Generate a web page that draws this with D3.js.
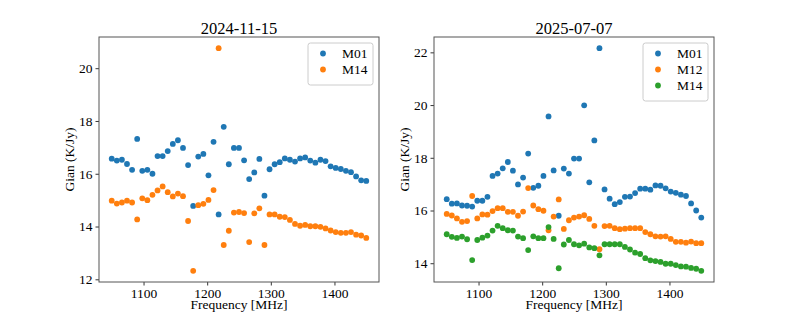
<!DOCTYPE html>
<html>
<head>
<meta charset="utf-8">
<script src="https://cdn.jsdelivr.net/npm/d3@7"></script>
<style>
  body { margin: 0; background: #fff; }
  text { font-family: "Liberation Serif", "Times New Roman", serif; fill: #000; }
</style>
</head>
<body>
<script>
// frequency channels, 8 MHz apart
var freqs = d3.range(51).map(i => 1050 + 8 * i);

var left_M01 = [16.57, 16.50, 16.53, 16.37, 16.15, 17.32, 16.11, 16.15, 16.00, 16.67,
  16.67, 16.86, 17.13, 17.27, 16.98, 16.33, 14.78, 16.65, 16.75, 15.94,
  17.21, 14.46, 17.78, 16.36, 16.98, 16.98, 16.51, 15.80, 16.05, 16.56,
  15.17, 16.17, 16.36, 16.44, 16.58, 16.53, 16.46, 16.58, 16.62, 16.50,
  16.42, 16.53, 16.48, 16.28, 16.22, 16.18, 16.11, 16.06, 15.90, 15.75, 15.73];
var left_M14 = [14.98, 14.87, 14.91, 14.98, 14.91, 14.27, 15.07, 15.00, 15.20, 15.37,
  15.52, 15.30, 15.14, 15.25, 15.15, 14.21, 12.32, 14.81, 14.86, 15.01,
  15.38, 20.76, 13.30, 13.84, 14.53, 14.55, 14.51, 13.41, 14.50, 14.69,
  13.30, 14.46, 14.46, 14.37, 14.36, 14.25, 14.10, 14.03, 14.06, 14.01,
  14.01, 13.99, 13.93, 13.85, 13.79, 13.76, 13.76, 13.79, 13.69, 13.66, 13.57];

var right_M01 = [16.43, 16.26, 16.27, 16.19, 16.18, 16.15, 16.37, 16.37, 16.52, 17.31,
  17.40, 17.60, 17.84, 17.51, 16.99, 17.25, 18.16, 16.86, 16.94, 17.31,
  19.57, 17.52, 15.80, 17.59, 17.40, 17.97, 17.97, 19.99, 17.07, 18.66,
  22.16, 16.80, 16.45, 16.24, 16.32, 16.52, 16.53, 16.66, 16.83, 16.83,
  16.79, 16.95, 16.94, 16.84, 16.72, 16.67, 16.60, 16.55, 16.27, 16.00, 15.73];
var right_M12 = [15.87, 15.81, 15.70, 15.57, 15.60, 16.55, 15.70, 15.85, 15.84, 15.98,
  16.09, 16.09, 15.95, 15.95, 15.80, 15.96, 16.85, 16.19, 16.05, 15.99,
  15.25, 15.77, 16.42, 15.30, 15.63, 15.73, 15.77, 15.82, 15.68, 15.42,
  14.53, 15.41, 15.42, 15.33, 15.29, 15.31, 15.33, 15.33, 15.33, 15.18,
  15.10, 15.02, 15.01, 15.02, 14.92, 14.81, 14.81, 14.78, 14.82, 14.76, 14.76];
var right_M14 = [15.10, 15.00, 14.96, 15.01, 14.91, 14.12, 14.88, 14.97, 15.05, 15.24,
  15.42, 15.33, 15.25, 15.24, 15.01, 14.95, 14.50, 15.02, 14.95, 14.95,
  15.37, 14.92, 13.81, 14.71, 14.88, 14.72, 14.68, 14.74, 14.60, 14.57,
  14.30, 14.72, 14.72, 14.72, 14.72, 14.62, 14.52, 14.40, 14.35, 14.19,
  14.11, 14.08, 14.05, 13.98, 13.98, 13.93, 13.88, 13.87, 13.82, 13.79, 13.71];

var xTicks = [1100, 1200, 1300, 1400];
var leftYTicks = [12, 14, 16, 18, 20];
var rightYTicks = [14, 16, 18, 20, 22];

var colors = ["#1f77b4", "#ff7f0e", "#2ca02c"];

var W = 793, H = 317;
var axTop = 37, axBottom = 282, axW = 280;

var svg = d3.select("body").append("svg")
  .attr("width", W)
  .attr("height", H);

// pad the extent by 5% like matplotlib does
function padded(arr) {
  var lo = d3.min(arr), hi = d3.max(arr), p = (hi - lo) * 0.05;
  return [lo - p, hi + p];
}

function panel(x0, title, series, names, yTicks) {
  var g = svg.append("g");
  var x = d3.scaleLinear().domain(padded(freqs)).range([x0, x0 + axW]);
  var y = d3.scaleLinear().domain(padded(d3.merge(series))).range([axBottom, axTop]);

  // points
  series.forEach(function(vals, k) {
    g.append("g").selectAll("circle")
      .data(vals).enter()
      .append("circle")
      .attr("cx", (d, i) => x(freqs[i]))
      .attr("cy", d => y(d))
      .attr("r", 2.9)
      .attr("fill", colors[k]);
  });

  // axes
  var xa = g.append("g")
    .attr("transform", "translate(0," + axBottom + ")")
    .call(d3.axisBottom(x).tickValues(xTicks).tickSize(3.5).tickPadding(2.5).tickFormat(d3.format("d")));
  var ya = g.append("g")
    .attr("transform", "translate(" + x0 + ",0)")
    .call(d3.axisLeft(y).tickValues(yTicks).tickSize(3.5).tickPadding(3).tickFormat(d3.format("d")));
  [xa, ya].forEach(function(a) {
    a.select(".domain").remove();
    a.selectAll("text").attr("font-size", 13.5).attr("font-family", "Liberation Serif").attr("fill", "#000");
    a.selectAll("line").attr("stroke", "#000").attr("stroke-width", 0.8);
  });

  // frame
  g.append("rect")
    .attr("x", x0).attr("y", axTop)
    .attr("width", axW).attr("height", axBottom - axTop)
    .attr("fill", "none")
    .attr("stroke", "#555")
    .attr("stroke-width", 1);

  g.append("text")
    .attr("x", x0 + axW / 2).attr("y", 34)
    .attr("text-anchor", "middle")
    .attr("font-size", 16.5)
    .text(title);

  g.append("text")
    .attr("x", x0 + axW / 2).attr("y", 309)
    .attr("text-anchor", "middle")
    .attr("font-size", 13.5)
    .text("Frequency [MHz]");

  g.append("text")
    .attr("transform", "translate(" + (x0 - 25) + "," + ((axTop + axBottom) / 2) + ") rotate(-90)")
    .attr("text-anchor", "middle")
    .attr("font-size", 13.5)
    .text("Gian (K/Jy)");

  // legend
  var lw = 65, lh = 10 + 16 * names.length;
  var lx = x0 + axW - 6 - lw, ly = axTop + 6;
  var leg = g.append("g");
  leg.append("rect")
    .attr("x", lx).attr("y", ly)
    .attr("width", lw).attr("height", lh)
    .attr("rx", 2.5)
    .attr("fill", "#fff")
    .attr("fill-opacity", 0.8)
    .attr("stroke", "#ccc");
  names.forEach(function(n, k) {
    leg.append("circle")
      .attr("cx", lx + 15).attr("cy", ly + 10.5 + 16 * k)
      .attr("r", 2.9).attr("fill", colors[k]);
    leg.append("text")
      .attr("x", lx + 34).attr("y", ly + 10.5 + 16 * k)
      .attr("dy", "0.35em")
      .attr("font-size", 13.5)
      .text(n);
  });
}

panel(99, "2024-11-15", [left_M01, left_M14], ["M01", "M14"], leftYTicks);
panel(434, "2025-07-07", [right_M01, right_M12, right_M14], ["M01", "M12", "M14"], rightYTicks);
</script>
</body>
</html>
